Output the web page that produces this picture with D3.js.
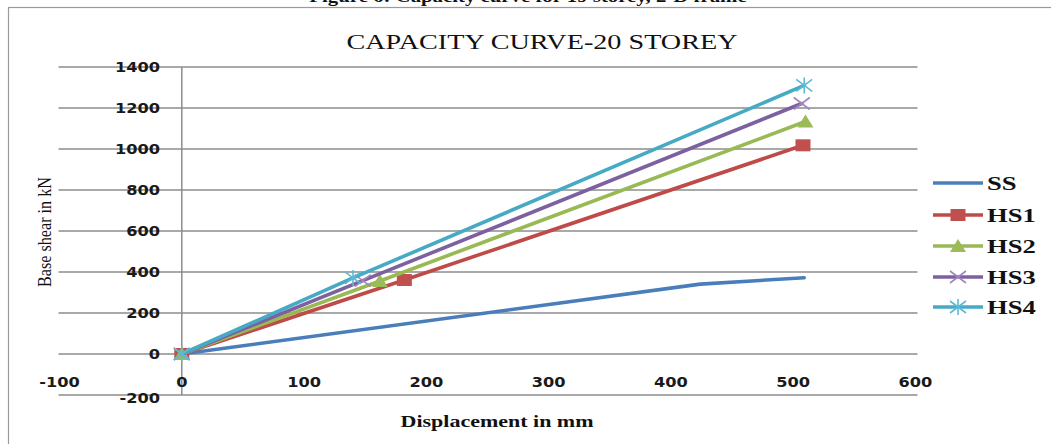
<!DOCTYPE html>
<html><head><meta charset="utf-8">
<script src="https://cdn.jsdelivr.net/npm/d3@7"></script>
<style>body{margin:0;background:#fff;}svg{display:block;}</style>
</head><body>
<svg id="c" width="1051" height="444"></svg>
<script>
const seriesNames = ["SS","HS1","HS2","HS3","HS4"];
const ssX  = [0, 424, 509];   const ssY  = [0, 341, 372];
const hs1X = [0, 182, 508];   const hs1Y = [0, 361, 1018];
const hs2X = [0, 162, 510];   const hs2Y = [0, 356, 1134];
const hs3X = [0, 148, 507];   const hs3Y = [0, 358, 1222];
const hs4X = [0, 140, 509];   const hs4Y = [0, 371, 1310];
const xTicks = [-100, 0, 100, 200, 300, 400, 500, 600];
const yTicks = [-200, 0, 200, 400, 600, 800, 1000, 1200, 1400];
const titleText = "CAPACITY CURVE-20 STOREY";
const xLabel = "Displacement in mm";
const yLabel = "Base shear in kN";
const figCaption = "Figure 6: Capacity curve for 19 storey, 2-D frame";

const series = [
  {name:"SS",  xs:ssX,  ys:ssY,  color:"#4A7EBB", marker:null},
  {name:"HS1", xs:hs1X, ys:hs1Y, color:"#BE4B48", marker:"square", mcolor:"#C0504D"},
  {name:"HS2", xs:hs2X, ys:hs2Y, color:"#98B954", marker:"triangle", mcolor:"#9BBB59"},
  {name:"HS3", xs:hs3X, ys:hs3Y, color:"#7D60A0", marker:"x", mcolor:"#9E86C0"},
  {name:"HS4", xs:hs4X, ys:hs4Y, color:"#46AAC5", marker:"star", mcolor:"#5DBAD4"}
];

const svg = d3.select("#c");
const x = d3.scaleLinear().domain([-100, 600]).range([59.5, 915.5]);
const y = d3.scaleLinear().domain([-200, 1400]).range([395, 67]);
const grid = "#8c8c8c";

function stretch(sel, f){
  sel.each(function(){
    const w = this.getComputedTextLength();
    d3.select(this).attr("textLength", w*f).attr("lengthAdjust","spacingAndGlyphs");
  });
  return sel;
}

// caption (cut off at top, as in the reference)
stretch(svg.append("text").attr("x", 528).attr("y", 1.5).attr("text-anchor","middle")
  .attr("font-family","Liberation Serif").attr("font-weight","bold").attr("font-size",16)
  .attr("fill","#111").text(figCaption), 1.3);

// chart border
svg.append("rect").attr("x",8.5).attr("y",7.5).attr("width",1100).attr("height",600)
  .attr("fill","none").attr("stroke","#9a9a9a").attr("stroke-width",1.2);

// gridlines
svg.append("g").selectAll("line").data(yTicks).join("line")
  .attr("x1", x(-100)-1).attr("x2", x(600)+2)
  .attr("y1", d=>y(d)).attr("y2", d=>y(d))
  .attr("stroke", grid).attr("stroke-width",1.5);
// vertical axis at x = 0
svg.append("line").attr("x1",x(0)).attr("x2",x(0)).attr("y1",y(1400)).attr("y2",y(-200))
  .attr("stroke",grid).attr("stroke-width",1.5);

// y tick labels
const yl = svg.append("g").selectAll("text").data(yTicks).join("text")
  .attr("x", 160).attr("y", d=>y(d)+5 + (d<0?3:0)).attr("text-anchor","end")
  .attr("font-family","DejaVu Sans").attr("font-weight","bold").attr("font-size",13.5)
  .attr("fill","#1a1a1a").text(d=>d);
stretch(yl, 1.2);
// x tick labels
const xl = svg.append("g").selectAll("text").data(xTicks).join("text")
  .attr("x", d=>x(d)).attr("y", 387).attr("text-anchor","middle")
  .attr("font-family","DejaVu Sans").attr("font-weight","bold").attr("font-size",13.5)
  .attr("fill","#1a1a1a").text(d=>d);
stretch(xl, 1.2);

// title
svg.append("text").attr("x",542).attr("y",49).attr("text-anchor","middle")
  .attr("font-family","Liberation Serif").attr("font-size",22).attr("fill","#111")
  .attr("textLength",391).attr("lengthAdjust","spacingAndGlyphs").text(titleText);
// x label
svg.append("text").attr("x",497).attr("y",427).attr("text-anchor","middle")
  .attr("font-family","Liberation Serif").attr("font-weight","bold").attr("font-size",16)
  .attr("fill","#111").attr("textLength",193).attr("lengthAdjust","spacingAndGlyphs").text(xLabel);
// y label
svg.append("text").attr("transform","translate(51,232) rotate(-90)").attr("text-anchor","middle")
  .attr("font-family","Liberation Serif").attr("font-size",19).attr("fill","#111")
  .attr("textLength",110).attr("lengthAdjust","spacingAndGlyphs").text(yLabel);

// markers
function drawMarker(g, type, cx, cy, color){
  if(type==="square"){
    g.append("rect").attr("x",cx-7.5).attr("y",cy-6).attr("width",15).attr("height",12).attr("fill",color);
  } else if(type==="triangle"){
    g.append("path").attr("d",`M${cx-8},${cy+6}L${cx+8},${cy+6}L${cx},${cy-7}Z`).attr("fill",color);
  } else if(type==="x"){
    g.append("path").attr("d",`M${cx-8},${cy-6}L${cx+8},${cy+6}M${cx-8},${cy+6}L${cx+8},${cy-6}`)
      .attr("stroke",color).attr("stroke-width",1.6).attr("fill","none");
  } else if(type==="star"){
    g.append("path").attr("d",`M${cx-8},${cy-6}L${cx+8},${cy+6}M${cx-8},${cy+6}L${cx+8},${cy-6}M${cx},${cy-8}L${cx},${cy+8}`)
      .attr("stroke",color).attr("stroke-width",1.6).attr("fill","none");
  }
}

const line = d3.line().x(d=>x(d[0])).y(d=>y(d[1]));
const plot = svg.append("g");
series.forEach(s=>{
  const pts = s.xs.map((v,i)=>[v, s.ys[i]]);
  const g = plot.append("g");
  g.append("path").attr("d", line(pts)).attr("fill","none")
    .attr("stroke", s.color).attr("stroke-width",3.6).attr("stroke-linejoin","round").attr("stroke-linecap","round");
  if(s.marker) pts.forEach(p=>drawMarker(g, s.marker, x(p[0]), y(p[1]), s.mcolor));
});

// legend
const legY = [183, 215, 246, 277, 307];
series.forEach((s,i)=>{
  const g = svg.append("g");
  const ly = legY[i];
  g.append("line").attr("x1",933).attr("x2",983).attr("y1",ly).attr("y2",ly)
    .attr("stroke",s.color).attr("stroke-width",3.6);
  if(s.marker) drawMarker(g, s.marker, 958, ly, s.mcolor);
  stretch(g.append("text").attr("x",987).attr("y",ly+7)
    .attr("font-family","Liberation Serif").attr("font-weight","bold").attr("font-size",19)
    .attr("fill","#111").text(s.name), 1.4);
});
</script>
</body></html>
